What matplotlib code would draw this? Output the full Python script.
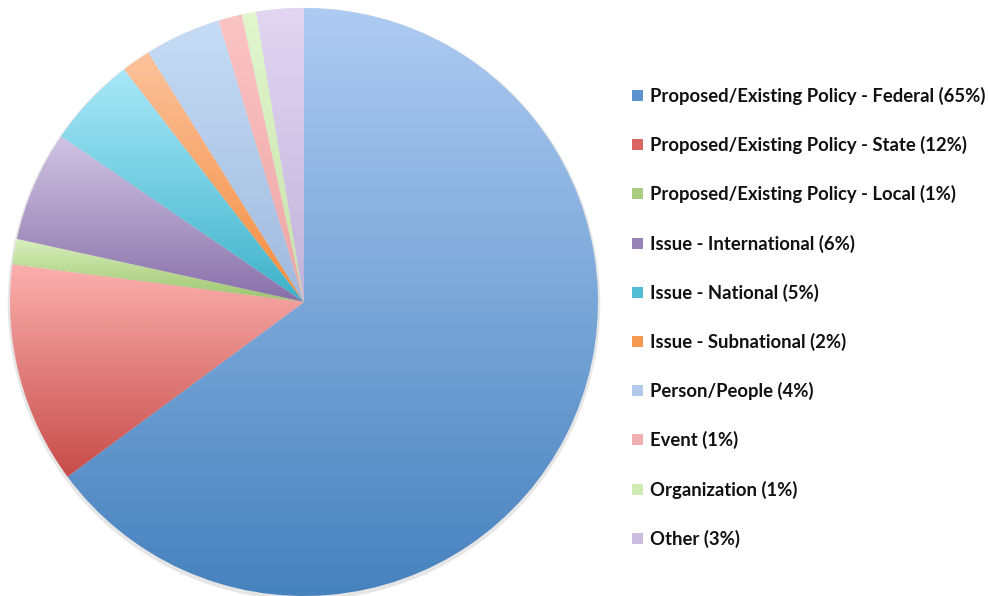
import numpy as np
import matplotlib
matplotlib.use("Agg")
import matplotlib.pyplot as plt
from matplotlib.colors import LinearSegmentedColormap
from matplotlib.patches import Rectangle

categories = [
    "Proposed/Existing Policy - Federal",
    "Proposed/Existing Policy - State",
    "Proposed/Existing Policy - Local",
    "Issue - International",
    "Issue - National",
    "Issue - Subnational",
    "Person/People",
    "Event",
    "Organization",
    "Other",
]
values = [65.0, 12.2, 1.4, 6.1, 5.0, 1.6, 4.2, 1.3, 0.8, 2.6]
pct_labels = ["65%", "12%", "1%", "6%", "5%", "2%", "4%", "1%", "1%", "3%"]

top_colors = ["#aecbf2", "#fbb0ae", "#d9efbd", "#d0c4e4", "#a8e8f8",
              "#fcc29c", "#c6dcf6", "#fbc4c4", "#e2f6cf", "#e2d6f2"]
bot_colors = ["#4682be", "#c74c49", "#9cc46c", "#8870a8", "#3eb2ca",
              "#f48c3c", "#a0bade", "#eea4a4", "#c6e2a6", "#c2b2da"]
legend_colors = ["#5d93cc", "#d96663", "#a9cd7f", "#9783b6", "#52bcd4",
                 "#f69a52", "#b2caea", "#f1b0b0", "#d0eab4", "#cabde0"]

W, H = 988, 596
fig = plt.figure(figsize=(W / 100, H / 100), dpi=100)
ax = fig.add_axes([0, 0, 1, 1])

cx, cy, r = 304, H - 302, 294

# subtle shadow
shadow = plt.Circle((cx, cy - 2), r + 1.5, color="#e6e6e6", zorder=0)
ax.add_patch(shadow)

wedges, _ = ax.pie(values, startangle=90, counterclock=False,
                   center=(cx, cy), radius=r, frame=True,
                   wedgeprops=dict(linewidth=0))

grad = np.linspace(0, 1, 256).reshape(-1, 1)
for w, tc, bc in zip(wedges, top_colors, bot_colors):
    w.set_facecolor("none")
    ext = w.get_path().get_extents()
    cmap = LinearSegmentedColormap.from_list("g", [bc, tc])
    im = ax.imshow(grad, cmap=cmap, origin="lower", aspect="auto",
                   extent=[ext.x0, ext.x1, ext.y0, ext.y1], zorder=1,
                   interpolation="bilinear")
    im.set_clip_path(w)

ax.set_xlim(0, W)
ax.set_ylim(0, H)
ax.set_aspect("equal")
ax.axis("off")

# legend
y0, dy = 96, 49.2
for i, (cat, pct, col) in enumerate(zip(categories, pct_labels, legend_colors)):
    yy = H - (y0 + i * dy)
    ax.add_patch(Rectangle((632, yy - 5), 11, 11, facecolor=col,
                           edgecolor="none", zorder=3))
    ax.text(650, yy, f"{cat} ({pct})", fontsize=13.3, fontweight="bold",
            family="Lato", va="center", ha="left", color="#111111")

fig.savefig("out.png", dpi=100)
